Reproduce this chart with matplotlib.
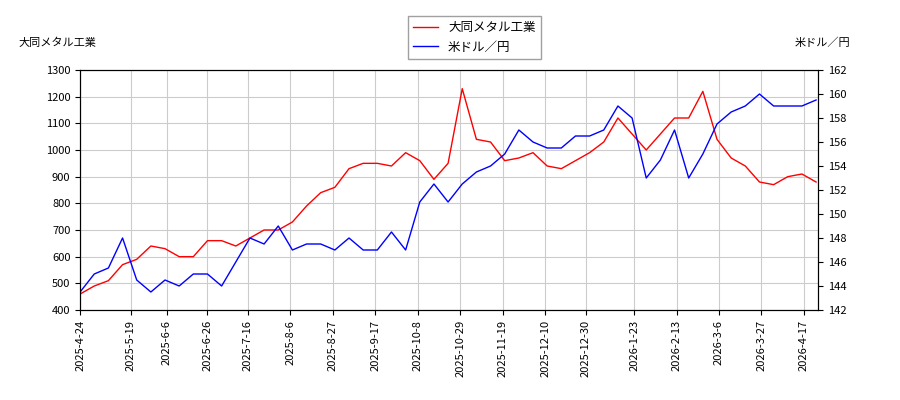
import numpy as np
import pandas as pd
import matplotlib
matplotlib.use('Agg')
import matplotlib.pyplot as plt

plt.rcParams['font.family'] = ['Noto Sans CJK JP', 'DejaVu Sans']

# weekly values
dates = pd.date_range('2025-04-24', periods=53, freq='7D')
stock = [460, 490, 510, 570, 590, 640, 630, 600, 600, 660, 660, 640, 670, 700, 700,
         730, 790, 840, 860, 930, 950, 950, 940, 990, 960, 890, 950, 1230, 1040, 1030,
         960, 970, 990, 940, 930, 960, 990, 1030, 1120, 1060, 1000, 1060, 1120, 1120,
         1220, 1040, 970, 940, 880, 870, 900, 910, 880]
usdjpy = [143.5, 145, 145.5, 148, 144.5, 143.5, 144.5, 144, 145, 145, 144, 146, 148,
          147.5, 149, 147, 147.5, 147.5, 147, 148, 147, 147, 148.5, 147, 151, 152.5,
          151, 152.5, 153.5, 154, 155, 157, 156, 155.5, 155.5, 156.5, 156.5, 157, 159,
          158, 153, 154.5, 157, 153, 155, 157.5, 158.5, 159, 160, 159, 159, 159, 159.5]

tick_labels = ['2025-4-24', '2025-5-19', '2025-6-6', '2025-6-26', '2025-7-16', '2025-8-6',
               '2025-8-27', '2025-9-17', '2025-10-8', '2025-10-29', '2025-11-19',
               '2025-12-10', '2025-12-30', '2026-1-23', '2026-2-13', '2026-3-6',
               '2026-3-27', '2026-4-17']
tick_dates = pd.to_datetime(tick_labels)

fig, ax = plt.subplots(figsize=(9, 4), dpi=100)
fig.subplots_adjust(left=0.089, right=0.909, top=0.825, bottom=0.225)
l1, = ax.plot(dates, stock, color='red', lw=1, label='大同メタル工業')
ax.set_ylim(400, 1300)
ax.set_yticks(range(400, 1301, 100))
ax2 = ax.twinx()
l2, = ax2.plot(dates, usdjpy, color='blue', lw=1, label='米ドル／円')
ax2.set_ylim(142, 162)
ax2.set_yticks(range(142, 163, 2))
ax.set_xlim(dates[0], pd.Timestamp('2026-04-24'))
ax.set_xticks(tick_dates)
ax.set_xticklabels(tick_labels, rotation=90)
ax.grid(True, color='#cccccc')
for a in (ax, ax2):
    a.tick_params(labelsize=8)
fig.text(0.02, 0.885, '大同メタル工業', fontsize=8)
fig.text(0.945, 0.885, '米ドル／円', fontsize=8, ha='right')
fig.legend(handles=[l1, l2], loc='upper center', bbox_to_anchor=(0.527, 0.975),
           fontsize=9, fancybox=False, edgecolor='#888888')
fig.savefig('out.png')
